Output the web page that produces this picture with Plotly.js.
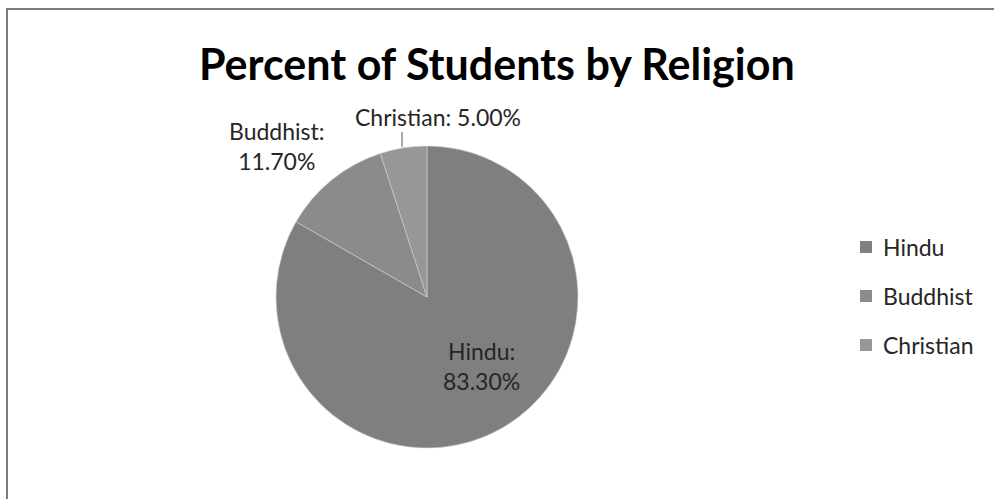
<!DOCTYPE html>
<html>
<head>
<meta charset="utf-8">
<script src="https://cdn.plot.ly/plotly-3.0.1.min.js"></script>
<style>html,body{margin:0;padding:0;background:#fff;}#chart{width:994px;height:499px;}</style>
</head>
<body>
<div id="chart"></div>
<script>
const categories = ['Hindu', 'Buddhist', 'Christian'];
const percentValues = [83.3, 11.7, 5.0];
const sliceColors = ['#7f7f7f', '#8b8b8b', '#979797'];
const chartTitle = 'Percent of Students by Religion';

const FONT = 'Lato, "Noto Sans", sans-serif';
const W = 994, H = 499;
const px = x => x / W;
const py = y => 1 - y / H;

const labelText = i => categories[i] + ':' + (i === 2 ? ' ' : '<br>') + percentValues[i].toFixed(2) + '%';

const trace = {
  type: 'pie',
  labels: categories,
  values: percentValues,
  sort: false,
  direction: 'clockwise',
  rotation: 0,
  marker: { colors: sliceColors, line: { color: '#d0d0d0', width: 0.6 } },
  textinfo: 'none',
  hoverinfo: 'label+percent',
  showlegend: false,
  domain: { x: [px(276), px(578)], y: [py(448), py(146)] }
};

const labelFont = { family: FONT, size: 23, color: '#262626' };
const annotations = [
  { text: '<b>' + chartTitle + '</b>', x: 0.5, y: py(63), xref: 'paper', yref: 'paper',
    xanchor: 'center', yanchor: 'middle', showarrow: false, font: { family: FONT, size: 43, color: '#000' } },
  { text: labelText(0), x: px(481), y: py(366), xref: 'paper', yref: 'paper', xanchor: 'center', yanchor: 'middle',
    showarrow: false, font: labelFont },
  { text: labelText(1), x: px(277), y: py(146), xref: 'paper', yref: 'paper', xanchor: 'center', yanchor: 'middle',
    showarrow: false, font: labelFont },
  { text: labelText(2), x: px(438), y: py(117), xref: 'paper', yref: 'paper', xanchor: 'center', yanchor: 'middle',
    showarrow: false, font: labelFont }
];

const shapes = [
  { type: 'line', xref: 'paper', yref: 'paper', x0: px(6), x1: px(994), y0: py(9), y1: py(9), line: { color: '#7a7a7a', width: 2 } },
  { type: 'line', xref: 'paper', yref: 'paper', x0: px(7), x1: px(7), y0: py(9), y1: py(499), line: { color: '#7a7a7a', width: 2 } },
  { type: 'line', xref: 'paper', yref: 'paper', x0: px(402), x1: px(402), y0: py(132), y1: py(147), line: { color: '#595959', width: 1 } }
];

// manual legend
const legendY = [247, 296, 345];
categories.forEach((c, i) => {
  shapes.push({ type: 'rect', xref: 'paper', yref: 'paper', x0: px(860), x1: px(872), y0: py(legendY[i] - 6), y1: py(legendY[i] + 6),
    fillcolor: sliceColors[i], line: { width: 0 } });
  annotations.push({ text: c, x: px(881), y: py(legendY[i]), xref: 'paper', yref: 'paper', xanchor: 'left', yanchor: 'middle',
    showarrow: false, font: labelFont });
});

const layout = {
  width: W, height: H,
  margin: { l: 0, r: 0, t: 0, b: 0 },
  paper_bgcolor: '#fff',
  showlegend: false,
  annotations, shapes
};

Plotly.newPlot('chart', [trace], layout, { displayModeBar: false, staticPlot: true });
</script>
</body>
</html>
